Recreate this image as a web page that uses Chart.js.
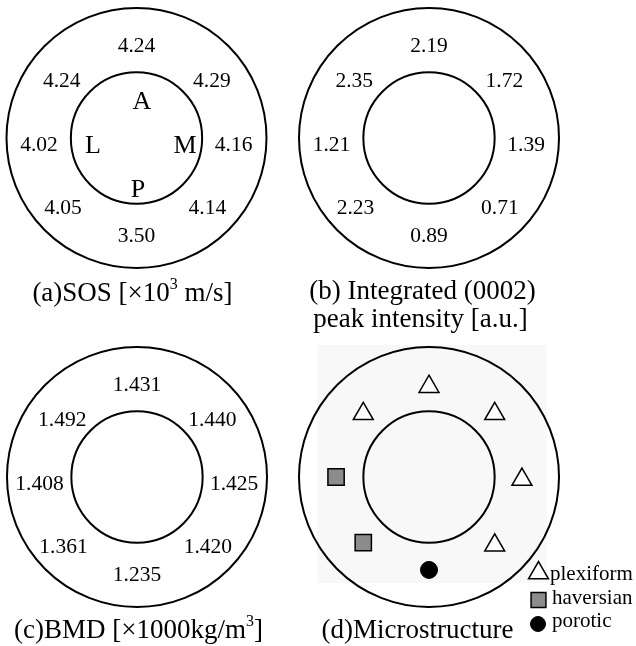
<!DOCTYPE html>
<html><head><meta charset="utf-8">
<script src="https://cdn.jsdelivr.net/npm/chart.js@4.4.0/dist/chart.umd.min.js"></script>
<style>
html,body{margin:0;padding:0;background:#fff;}
body{width:636px;height:646px;position:relative;overflow:hidden;font-family:"Liberation Serif","Times New Roman",serif;color:#000;}
canvas{position:absolute;}
.cap{position:absolute;width:320px;text-align:center;font-size:27px;line-height:27px;white-space:nowrap;}
.cap .sup{font-size:16px;position:relative;top:-12px;}
#bgd{position:absolute;left:317px;top:345px;width:230px;height:238px;background:#f8f8f8;}
</style></head>
<body>
<div id="bgd"></div>
<canvas id="ca" width="300" height="323" style="left:0;top:0"></canvas>
<canvas id="cb" width="348" height="323" style="left:288px;top:0"></canvas>
<canvas id="cc" width="300" height="323" style="left:0;top:323px"></canvas>
<canvas id="cd" width="348" height="323" style="left:288px;top:323px"></canvas>
<div class="cap" style="left:-27.5px;top:279.4px">(a)SOS [×10<span class="sup">3</span> m/s]</div>
<div class="cap" style="left:262.5px;top:277.4px">(b) Integrated (0002)</div>
<div class="cap" style="left:260.5px;top:305.4px">peak intensity [a.u.]</div>
<div class="cap" style="left:-21.5px;top:616.4px">(c)BMD [×1000kg/m<span class="sup">3</span>]</div>
<div class="cap" style="left:257.5px;top:616.4px">(d)Microstructure</div>
<script>
// ---- data ----
const positions = ['A', 'A-M', 'M', 'P-M', 'P', 'P-L', 'L', 'A-L'];
const sosValues = [4.24, 4.29, 4.16, 4.14, 3.50, 4.05, 4.02, 4.24];
const intensityValues = [2.19, 1.72, 1.39, 0.71, 0.89, 2.23, 1.21, 2.35];
const bmdValues = [1.431, 1.440, 1.425, 1.420, 1.235, 1.361, 1.408, 1.492];
const microstructure = ['plexiform', 'plexiform', 'plexiform', 'plexiform', 'porotic', 'haversian', 'haversian', 'plexiform'];
const quadrantLabels = ['A', 'M', 'P', 'L'];
const structureTypes = ['plexiform', 'haversian', 'porotic'];

// ---- layout (not data) ----
const R = 130;            // outer radius in px
const R_IN = 0.505;       // inner radius relative to outer
const SLOT = [[0,0.72],[0.58,0.45],[0.747,-0.04],[0.545,-0.525],[0,-0.742],[-0.565,-0.525],[-0.75,-0.04],[-0.575,0.45]];
const DIR_POS = {A:[0.042,0.292], M:[0.373,-0.046], P:[0.012,-0.385], L:[-0.335,-0.046]};
const MARK_R = 0.715;
const ANGLES = [90,45,0,-45,-90,-135,180,135];
const STYLE = {
  plexiform:{pointStyle:'triangle', radius:11.5, bg:'#ffffff', border:'#000000', bw:1.5},
  haversian:{pointStyle:'rect', radius:11.5, bg:'#8c8c8c', border:'#000000', bw:1.5},
  porotic:{pointStyle:'circle', radius:8.5, bg:'#000000', border:'#000000', bw:1}
};
const FONT_NUM = '21.5px "Liberation Serif", "Times New Roman", serif';
const FONT_DIR = '26px "Liberation Serif", "Times New Roman", serif';
const FONT_LEG = '21px "Liberation Serif", "Times New Roman", serif';

const panels = [
  {id:'ca', left:0, top:0, w:300, h:323, cx:136.5, cy:138, values:sosValues, digits:2, dirs:true},
  {id:'cb', left:288, top:0, w:348, h:323, cx:429, cy:138, values:intensityValues, digits:2},
  {id:'cc', left:0, top:323, w:300, h:323, cx:137, cy:477, values:bmdValues, digits:3},
  {id:'cd', left:288, top:323, w:348, h:323, cx:429, cy:477, markers:true}
];

function drawMarker(ctx, st, x, y){
  ctx.save();
  ctx.fillStyle = st.bg; ctx.strokeStyle = st.border; ctx.lineWidth = st.bw;
  if (Chart.helpers && Chart.helpers.drawPoint) {
    Chart.helpers.drawPoint(ctx, {pointStyle:st.pointStyle, radius:st.radius, borderWidth:st.bw, rotation:0}, x, y);
  }
  ctx.restore();
}

const ringPlugin = {
  id:'ring',
  beforeDatasetsDraw(chart){
    const ctx = chart.ctx, xs = chart.scales.x, ys = chart.scales.y;
    const cx = xs.getPixelForValue(0), cy = ys.getPixelForValue(0);
    const ro = xs.getPixelForValue(1) - cx, ri = xs.getPixelForValue(R_IN) - cx;
    ctx.save();
    ctx.strokeStyle = '#000'; ctx.lineWidth = 2;
    ctx.beginPath(); ctx.arc(cx, cy, ro, 0, Math.PI*2); ctx.stroke();
    ctx.beginPath(); ctx.arc(cx, cy, ri, 0, Math.PI*2); ctx.stroke();
    ctx.restore();
  },
  afterDatasetsDraw(chart){
    const ctx = chart.ctx;
    chart.data.datasets.forEach((ds, di) => {
      if (!ds.textLabels) return;
      const meta = chart.getDatasetMeta(di);
      ctx.save();
      ctx.fillStyle = '#000';
      ctx.font = ds.font;
      ctx.textAlign = 'center';
      ctx.textBaseline = 'alphabetic';
      const off = ds.baseOff;
      meta.data.forEach((el, i) => {
        ctx.fillText(ds.textLabels[i], el.x, el.y + off);
      });
      ctx.restore();
    });
    const p = chart.options.plugins.ring;
    if (p && p.legend) {
      const ctx2 = chart.ctx;
      const ox = p.ox, oy = p.oy;
      const items = [
        {t:structureTypes[0], mx:538.5, my:573, tx:550, ty:580},
        {t:structureTypes[1], mx:538.5, my:600, tx:552, ty:604},
        {t:structureTypes[2], mx:538, my:624, tx:552, ty:627}
      ];
      items.forEach(it => {
        const st = Object.assign({}, STYLE[it.t]);
        if (it.t === 'haversian') st.radius = 10.5;
        if (it.t === 'porotic') st.radius = 7.5;
        drawMarker(ctx2, st, it.mx - ox, it.my - oy);
        ctx2.save();
        ctx2.fillStyle = '#000'; ctx2.font = FONT_LEG; ctx2.textAlign = 'left'; ctx2.textBaseline = 'alphabetic';
        ctx2.fillText(it.t, it.tx - ox, it.ty - oy);
        ctx2.restore();
      });
    }
  }
};

panels.forEach(pn => {
  const datasets = [];
  if (pn.values) {
    datasets.push({
      data: pn.values.map((v, i) => ({x: SLOT[i][0], y: SLOT[i][1]})),
      textLabels: pn.values.map(v => v.toFixed(pn.digits)),
      font: FONT_NUM, baseOff: 7.3,
      pointRadius: 0, pointHoverRadius: 0
    });
  }
  if (pn.dirs) {
    datasets.push({
      data: quadrantLabels.map(l => ({x: DIR_POS[l][0], y: DIR_POS[l][1]})),
      textLabels: quadrantLabels.slice(),
      font: FONT_DIR, baseOff: 8.6,
      pointRadius: 0, pointHoverRadius: 0
    });
  }
  if (pn.markers) {
    structureTypes.forEach(t => {
      const st = STYLE[t];
      const pts = [];
      microstructure.forEach((m, i) => {
        if (m === t) {
          const a = ANGLES[i] * Math.PI / 180;
          pts.push({x: MARK_R * Math.cos(a), y: MARK_R * Math.sin(a) + (t === 'plexiform' ? -0.02 : 0)});
        }
      });
      datasets.push({
        label: t, data: pts,
        pointStyle: st.pointStyle, pointRadius: st.radius, pointHoverRadius: st.radius,
        pointBackgroundColor: st.bg, pointBorderColor: st.border, pointBorderWidth: st.bw,
        showLine: false
      });
    });
  }
  new Chart(document.getElementById(pn.id), {
    type: 'scatter',
    data: {datasets},
    options: {
      responsive: false, animation: false, events: [],
      layout: {padding: 0, autoPadding: false},
      clip: false,
      scales: {
        x: {type:'linear', display:false, min: -(pn.cx - pn.left)/R, max: (pn.left + pn.w - pn.cx)/R},
        y: {type:'linear', display:false, min: -(pn.top + pn.h - pn.cy)/R, max: (pn.cy - pn.top)/R}
      },
      plugins: {
        legend: {display:false}, tooltip: {enabled:false},
        ring: {legend: !!pn.markers, ox: pn.left, oy: pn.top}
      }
    },
    plugins: [ringPlugin]
  });
});
</script>
</body></html>
